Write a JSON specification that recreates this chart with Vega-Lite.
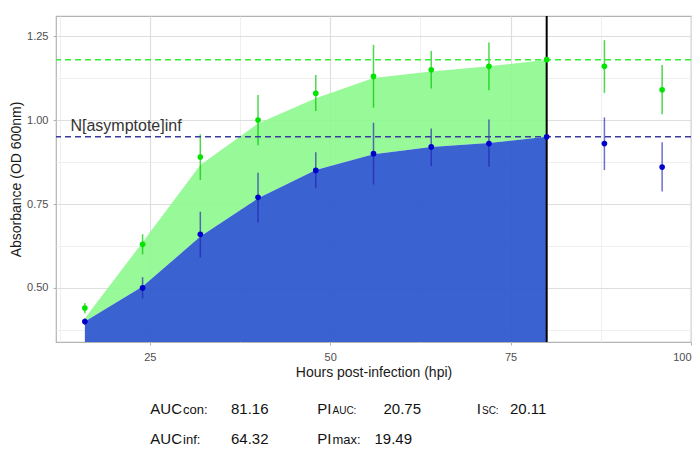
{
  "$schema": "https://vega.github.io/schema/vega-lite/v6.json",
  "width": 635,
  "height": 326,
  "autosize": {"type": "none"},
  "padding": {"left": 56, "top": 16, "right": 8, "bottom": 126},
  "background": "white",
  "config": {
    "font": "Liberation Sans",
    "view": {"stroke": "#b3b3b3", "strokeWidth": 1.2, "fill": "white"},
    "axis": {
      "labelFontSize": 11,
      "labelColor": "#4d4d4d",
      "titleFontSize": 14,
      "titleFontWeight": "normal",
      "titleColor": "#1a1a1a",
      "domain": false,
      "tickColor": "#b3b3b3",
      "tickSize": 3
    }
  },
  "datasets": {
    "obs": [
      {"hpi": 16, "series": "con", "mean": 0.44, "lo": 0.425, "hi": 0.455},
      {"hpi": 24, "series": "con", "mean": 0.63, "lo": 0.6, "hi": 0.66},
      {"hpi": 32, "series": "con", "mean": 0.89, "lo": 0.822, "hi": 0.958},
      {"hpi": 40, "series": "con", "mean": 1.0, "lo": 0.925, "hi": 1.075},
      {"hpi": 48, "series": "con", "mean": 1.08, "lo": 1.027, "hi": 1.134},
      {"hpi": 56, "series": "con", "mean": 1.13, "lo": 1.037, "hi": 1.224},
      {"hpi": 64, "series": "con", "mean": 1.15, "lo": 1.094, "hi": 1.206},
      {"hpi": 72, "series": "con", "mean": 1.16, "lo": 1.089, "hi": 1.231},
      {"hpi": 80, "series": "con", "mean": 1.18, "lo": 1.18, "hi": 1.18},
      {"hpi": 88, "series": "con", "mean": 1.16, "lo": 1.081, "hi": 1.238},
      {"hpi": 96, "series": "con", "mean": 1.09, "lo": 1.017, "hi": 1.164},
      {"hpi": 16, "series": "inf", "mean": 0.4, "lo": 0.39, "hi": 0.41},
      {"hpi": 24, "series": "inf", "mean": 0.5, "lo": 0.469, "hi": 0.532},
      {"hpi": 32, "series": "inf", "mean": 0.66, "lo": 0.591, "hi": 0.727},
      {"hpi": 40, "series": "inf", "mean": 0.77, "lo": 0.695, "hi": 0.843},
      {"hpi": 48, "series": "inf", "mean": 0.85, "lo": 0.797, "hi": 0.904},
      {"hpi": 56, "series": "inf", "mean": 0.9, "lo": 0.808, "hi": 0.992},
      {"hpi": 64, "series": "inf", "mean": 0.92, "lo": 0.863, "hi": 0.975},
      {"hpi": 72, "series": "inf", "mean": 0.93, "lo": 0.861, "hi": 1.002},
      {"hpi": 80, "series": "inf", "mean": 0.95, "lo": 0.95, "hi": 0.95},
      {"hpi": 88, "series": "inf", "mean": 0.93, "lo": 0.851, "hi": 1.008},
      {"hpi": 96, "series": "inf", "mean": 0.86, "lo": 0.787, "hi": 0.934}
    ],
    "fit": [
      {"hpi": 16, "con_fit": 0.41, "inf_fit": 0.4},
      {"hpi": 24, "con_fit": 0.636, "inf_fit": 0.504},
      {"hpi": 32, "con_fit": 0.866, "inf_fit": 0.653},
      {"hpi": 40, "con_fit": 0.99, "inf_fit": 0.767},
      {"hpi": 48, "con_fit": 1.065, "inf_fit": 0.851},
      {"hpi": 56, "con_fit": 1.125, "inf_fit": 0.898},
      {"hpi": 64, "con_fit": 1.145, "inf_fit": 0.92},
      {"hpi": 72, "con_fit": 1.16, "inf_fit": 0.932},
      {"hpi": 80, "con_fit": 1.18, "inf_fit": 0.95}
    ],
    "asym": [
      {"series": "con", "value": 1.18, "label": ""},
      {"series": "inf", "value": 0.95, "label": "N[asymptote]inf"}
    ],
    "cutoff": [{"hpi": 80}],
    "stats": [
      {"col": 0, "row": 0, "name": "AUC", "sub": "con:", "value": 81.16},
      {"col": 1, "row": 0, "name": "PI", "sub": "AUC:", "value": 20.75},
      {"col": 2, "row": 0, "name": "I", "sub": "SC:", "value": 20.11},
      {"col": 0, "row": 1, "name": "AUC", "sub": "inf:", "value": 64.32},
      {"col": 1, "row": 1, "name": "PI", "sub": "max:", "value": 19.49}
    ]
  },
  "layer": [
    {
      "layer": [
        {
          "data": {"name": "fit"},
          "mark": {"type": "area", "color": "#8cf88c", "opacity": 0.9},
          "encoding": {
            "x": {
              "field": "hpi",
              "type": "quantitative",
              "scale": {"domain": [12, 100], "nice": false, "zero": false},
              "axis": {
                "title": "Hours post-infection (hpi)",
                "values": [12.5, 25, 37.5, 50, 62.5, 75, 87.5, 100],
                "labelExpr": "datum.value % 25 === 0 ? format(datum.value, 'd') : ''",
                "labelPadding": 6,
                "titlePadding": 3,
                "gridColor": {"condition": {"test": "datum.value % 25 === 0", "value": "#dedede"}, "value": "#ebebeb"},
                "gridWidth": {"condition": {"test": "datum.value % 25 === 0", "value": 1.2}, "value": 0.8},
                "tickOpacity": {"condition": {"test": "datum.value % 25 === 0", "value": 1}, "value": 0}
              }
            },
            "y": {
              "field": "con_fit",
              "type": "quantitative",
              "scale": {"domain": [0.339, 1.31], "nice": false, "zero": false},
              "axis": {
                "title": "Absorbance (OD 600nm)",
                "values": [0.375, 0.5, 0.625, 0.75, 0.875, 1, 1.125, 1.25],
                "labelExpr": "(datum.value * 4) % 1 === 0 ? format(datum.value, '.2f') : ''",
                "labelPadding": 5,
                "titlePadding": 3,
                "gridColor": {"condition": {"test": "(datum.value * 4) % 1 === 0", "value": "#dedede"}, "value": "#ebebeb"},
                "gridWidth": {"condition": {"test": "(datum.value * 4) % 1 === 0", "value": 1.2}, "value": 0.8},
                "tickOpacity": {"condition": {"test": "(datum.value * 4) % 1 === 0", "value": 1}, "value": 0}
              }
            },
            "y2": {"field": "inf_fit"}
          }
        },
        {
          "data": {"name": "fit"},
          "mark": {"type": "area", "color": "#2a55cd", "opacity": 0.92, "clip": true},
          "encoding": {
            "x": {"field": "hpi", "type": "quantitative"},
            "y": {"field": "inf_fit", "type": "quantitative"},
            "y2": {"datum": 0}
          }
        },
        {
          "data": {"name": "obs"},
          "mark": {"type": "rule", "strokeWidth": 1.5},
          "encoding": {
            "x": {"field": "hpi", "type": "quantitative"},
            "y": {"field": "lo", "type": "quantitative"},
            "y2": {"field": "hi"},
            "color": {"condition": {"test": "datum.series === 'con'", "value": "#00c800"}, "value": "#2020b0"},
            "opacity": {"condition": {"test": "datum.series === 'con'", "value": 0.7}, "value": 0.65}
          }
        },
        {
          "data": {"name": "asym"},
          "mark": {"type": "rule", "strokeDash": [6, 4], "strokeWidth": 1.5, "opacity": 1},
          "encoding": {
            "y": {"field": "value", "type": "quantitative"},
            "color": {"condition": {"test": "datum.series === 'con'", "value": "#33ee33"}, "value": "#3a3aa0"}
          }
        },
        {
          "data": {"name": "asym"},
          "mark": {"type": "text", "align": "left", "baseline": "alphabetic", "dy": -6, "fontSize": 16, "color": "#333333"},
          "encoding": {
            "x": {"datum": 14, "type": "quantitative"},
            "y": {"field": "value", "type": "quantitative"},
            "text": {"field": "label"}
          }
        },
        {
          "data": {"name": "cutoff"},
          "mark": {"type": "rule", "color": "black", "strokeWidth": 2},
          "encoding": {
            "x": {"field": "hpi", "type": "quantitative"}
          }
        },
        {
          "data": {"name": "obs"},
          "mark": {"type": "circle", "size": 32, "opacity": 1},
          "encoding": {
            "x": {"field": "hpi", "type": "quantitative"},
            "y": {"field": "mean", "type": "quantitative"},
            "color": {"condition": {"test": "datum.series === 'con'", "value": "#00e400"}, "value": "#0000cd"}
          }
        }
      ]
    },
    {
      "data": {"name": "stats"},
      "encoding": {
        "x": {"field": "col", "type": "quantitative", "scale": {"domain": [-0.843, 3.405], "nice": false, "zero": false}, "axis": null},
        "y": {"field": "row", "type": "quantitative", "scale": {"domain": [-13.267, -2.4], "reverse": true, "nice": false, "zero": false}, "axis": null}
      },
      "layer": [
        {
          "mark": {"type": "text", "align": "right", "baseline": "alphabetic", "fontSize": 15, "color": "#111111"},
          "encoding": {"text": {"field": "name"}}
        },
        {
          "transform": [{"filter": "datum.col === 0 || datum.row === 1"}],
          "mark": {"type": "text", "align": "left", "baseline": "alphabetic", "dx": 1, "fontSize": 13, "color": "#111111"},
          "encoding": {"text": {"field": "sub"}}
        },
        {
          "transform": [{"filter": "datum.col !== 0 && datum.row === 0"}],
          "mark": {"type": "text", "align": "left", "baseline": "alphabetic", "dx": 1, "fontSize": 10, "color": "#111111"},
          "encoding": {"text": {"field": "sub"}}
        },
        {
          "transform": [{"filter": "datum.col === 0"}],
          "mark": {"type": "text", "align": "left", "baseline": "alphabetic", "dx": 49, "fontSize": 15, "color": "#111111"},
          "encoding": {"text": {"field": "value", "format": ".2f"}}
        },
        {
          "transform": [{"filter": "datum.col === 1 && datum.row === 0"}],
          "mark": {"type": "text", "align": "left", "baseline": "alphabetic", "dx": 52, "fontSize": 15, "color": "#111111"},
          "encoding": {"text": {"field": "value", "format": ".2f"}}
        },
        {
          "transform": [{"filter": "datum.col === 1 && datum.row === 1"}],
          "mark": {"type": "text", "align": "left", "baseline": "alphabetic", "dx": 43, "fontSize": 15, "color": "#111111"},
          "encoding": {"text": {"field": "value", "format": ".2f"}}
        },
        {
          "transform": [{"filter": "datum.col === 2"}],
          "mark": {"type": "text", "align": "left", "baseline": "alphabetic", "dx": 29, "fontSize": 15, "color": "#111111"},
          "encoding": {"text": {"field": "value", "format": ".2f"}}
        }
      ]
    }
  ],
  "resolve": {"scale": {"x": "independent", "y": "independent"}}
}
